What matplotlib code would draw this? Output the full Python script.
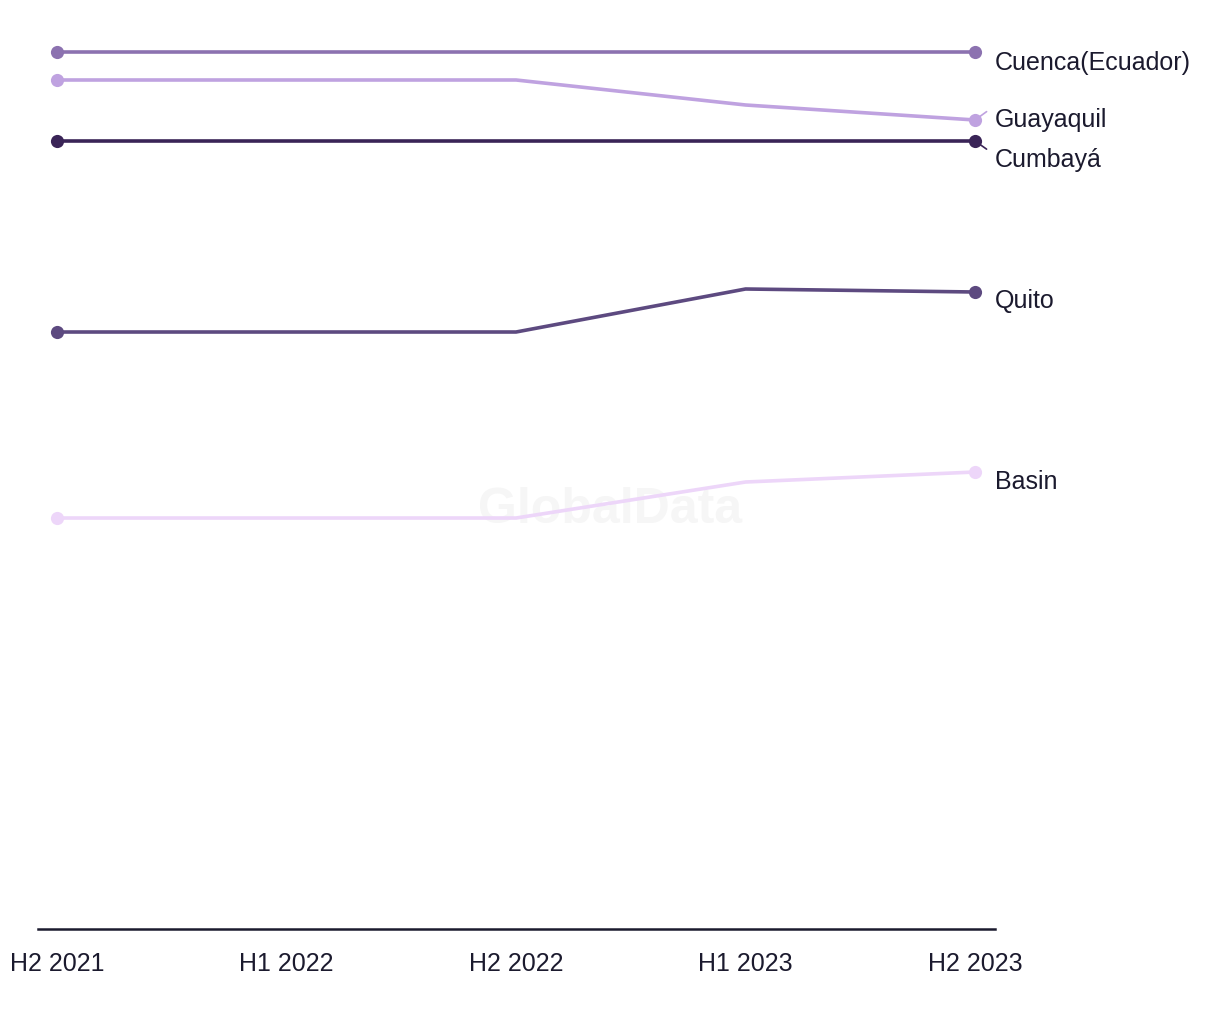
import matplotlib
matplotlib.use("Agg")
import matplotlib.pyplot as plt

# periods on the x axis
periods = ["H2 2021", "H1 2022", "H2 2022", "H1 2023", "H2 2023"]

# series values (arbitrary units)
cuenca = [87.7, 87.7, 87.7, 87.7, 87.7]
guayaquil = [84.9, 84.9, 84.9, 82.4, 80.9]
cumbaya = [78.8, 78.8, 78.8, 78.8, 78.8]
quito = [59.7, 59.7, 59.7, 64.0, 63.7]
basin = [41.1, 41.1, 41.1, 44.7, 45.7]

names = ["Cuenca(Ecuador)", "Guayaquil", "Cumbayá", "Quito", "Basin"]
series = [cuenca, guayaquil, cumbaya, quito, basin]
colors = ["#8c72b0", "#bfa2e0", "#3a2457", "#5d4a80", "#edd6f9"]
# label nudges in data units (to keep labels apart)
nudges = [-0.7, 0.4, -1.5, -0.5, -0.6]

textColor = "#1b1a2e"
plt.rcParams['font.family'] = ['Liberation Sans', 'DejaVu Sans']

fig = plt.figure(figsize=(12.2, 10.2), dpi=100)
ax = fig.add_axes([0.0311, 0.0882, 0.7845, 0.8824])

x = list(range(len(periods)))
for name, vals, col, nd in zip(names, series, colors, nudges):
	ax.plot(x, vals, color=col, lw=2.6, solid_capstyle='round', zorder=3)
	ax.scatter([x[0], x[-1]], [vals[0], vals[-1]], s=90, color=col, zorder=4, linewidths=0)
	ly = vals[-1] + nd - 0.3
	if abs(nd) > 1:
		ax.annotate("", xy=(x[-1], vals[-1]), xytext=(x[-1] + 0.06, vals[-1] + nd * 0.65),
			arrowprops=dict(arrowstyle='-', color=col, lw=1.2), zorder=2)
	elif nd > 0:
		ax.annotate("", xy=(x[-1], vals[-1]), xytext=(x[-1] + 0.06, vals[-1] + 1.0),
			arrowprops=dict(arrowstyle='-', color=col, lw=1.2), zorder=2)
	ax.text(x[-1] + 0.087, ly, name, fontsize=18, color=textColor, va='center', ha='left',
		clip_on=False)

ax.text(0.5, 0.5, "GlobalData", transform=fig.transFigure, fontsize=36, fontweight='bold',
	color='#f6f6f6', ha='center', va='center', zorder=1)

ax.set_xlim(-0.083, 4.087)
ax.set_ylim(0, 90)
ax.set_xticks(x)
ax.set_xticklabels(periods, fontsize=18, color=textColor)
ax.tick_params(axis='x', length=0, pad=16)
ax.set_yticks([])
for side in ['left', 'right', 'top']:
	ax.spines[side].set_visible(False)
ax.spines['bottom'].set_color(textColor)
ax.spines['bottom'].set_linewidth(1.8)

fig.savefig("out.png", dpi=100, facecolor='white')
